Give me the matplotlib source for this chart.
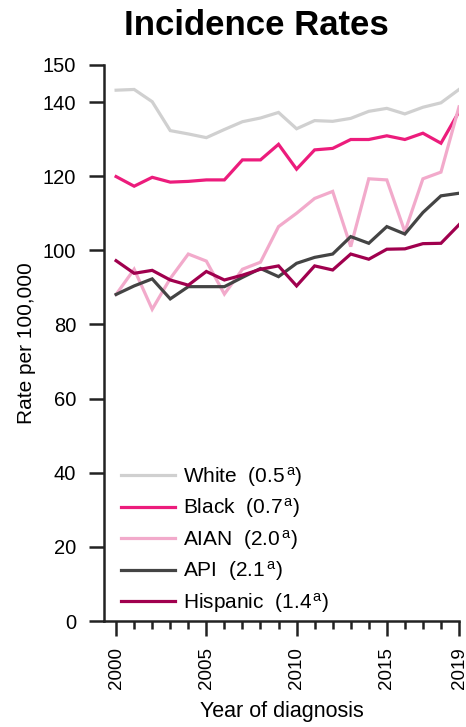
import matplotlib
matplotlib.use("Agg")
import matplotlib.pyplot as plt
from matplotlib.ticker import MultipleLocator

plt.rcParams['font.family'] = ['Liberation Sans', 'DejaVu Sans']
plt.rcParams['mathtext.fontset'] = 'custom'
plt.rcParams['mathtext.rm'] = 'Liberation Sans'
plt.rcParams['mathtext.it'] = 'Liberation Sans'

years = list(range(2000, 2020))

white = [143.2, 143.4, 140.1, 132.3, 131.4, 130.4, 132.6, 134.7, 135.7, 137.2,
         132.8, 135.0, 134.8, 135.6, 137.5, 138.3, 136.8, 138.6, 139.8, 143.4]
black = [119.9, 117.3, 119.7, 118.4, 118.6, 119.0, 119.0, 124.4, 124.4, 128.6,
         121.9, 127.1, 127.5, 129.9, 129.9, 130.9, 129.9, 131.6, 128.9, 137.4]
aian = [88.1, 94.9, 84.1, 92.4, 99.0, 97.1, 88.2, 94.9, 96.8, 106.4,
        110.0, 114.0, 115.9, 101.0, 119.3, 119.0, 105.0, 119.3, 121.1, 138.7]
api = [88.1, 90.4, 92.3, 86.9, 90.2, 90.2, 90.2, 92.7, 95.1, 92.9,
       96.5, 98.1, 99.0, 103.7, 101.9, 106.4, 104.4, 110.2, 114.7, 115.4]
hispanic = [97.2, 93.8, 94.6, 92.0, 90.6, 94.3, 92.0, 93.3, 94.9, 95.8,
            90.4, 95.8, 94.7, 99.0, 97.6, 100.3, 100.4, 101.8, 101.9, 106.9]

groups = ['White', 'Black', 'AIAN', 'API', 'Hispanic']
aapc = ['0.5', '0.7', '2.0', '2.1', '1.4']
series = [white, black, aian, api, hispanic]
colors = ['#d0d0d0', '#ec1c7c', '#f2aacb', '#444444', '#a0004e']

fig = plt.figure(figsize=(4.66, 7.27), dpi=100)
ax = fig.add_axes([0.2232, 0.1458, 0.7618, 0.7648])

for name, val, vals, col in zip(groups, aapc, series, colors):
    label = f'{name}  ({val}' + r'$^{\,\mathrm{a}}$' + ')'
    ax.plot(years, vals, color=col, lw=2.3, solid_joinstyle='miter', label=label)

ax.set_xlim(1999.33, 2019.0)
ax.set_ylim(0, 150)
ax.set_yticks([0, 20, 40, 60, 80, 100, 120, 140, 150])
ax.set_xticks([2000, 2005, 2010, 2015, 2019])
ax.xaxis.set_minor_locator(MultipleLocator(1))

for s in ['top', 'right']:
    ax.spines[s].set_visible(False)
for s in ['left', 'bottom']:
    ax.spines[s].set_linewidth(1.8)
    ax.spines[s].set_color('#222222')

ax.tick_params(axis='y', which='major', length=11, width=1.8, labelsize=14.5,
               color='#222222', pad=9)
ax.tick_params(axis='x', which='major', length=11, width=1.8, labelsize=13.5,
               labelrotation=90, color='#222222', pad=8)
ax.tick_params(axis='x', which='minor', length=5.5, width=1.8, color='#222222')

ax.set_ylabel('Rate per 100,000', fontsize=15, labelpad=5)
ax.set_xlabel('Year of diagnosis', fontsize=15.5, labelpad=8)

fig.text(0.551, 0.988, 'Incidence Rates', fontsize=25, fontweight='bold',
         ha='center', va='top')

leg = ax.legend(loc='lower left', frameon=False, fontsize=15, handlelength=2.6,
                handletextpad=0.35, labelspacing=0.36, borderaxespad=0.0,
                bbox_to_anchor=(0.025, -0.004))

fig.savefig('out.png', dpi=100)
